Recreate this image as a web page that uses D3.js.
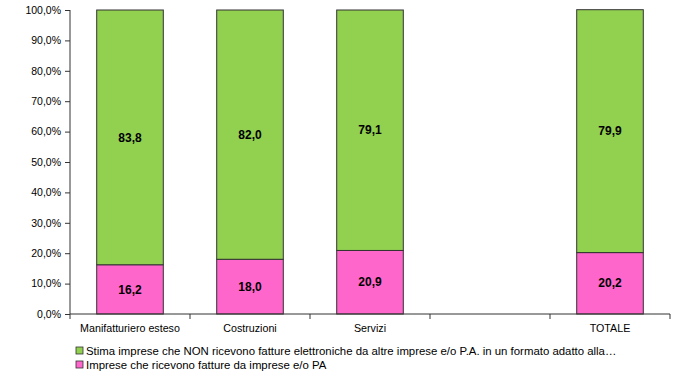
<!DOCTYPE html>
<html>
<head>
<meta charset="utf-8">
<script src="https://cdn.jsdelivr.net/npm/d3@7"></script>
<style>
  body { margin: 0; background: #fff; }
  svg text { font-family: "Liberation Sans Narrow", "Arial Narrow", "Liberation Sans", Arial, sans-serif; }
</style>
</head>
<body>
<svg id="chart" width="700" height="373"></svg>
<script>
(() => {
  const categories = ["Manifatturiero esteso", "Costruzioni", "Servizi", "", "TOTALE"];
  const pinkValues = [16.2, 18.0, 20.9, null, 20.2];
  const greenValues = [83.8, 82.0, 79.1, null, 79.9];
  const yTicks = [0, 10, 20, 30, 40, 50, 60, 70, 80, 90, 100];
  const legendLabels = [
    "Stima imprese che NON ricevono fatture elettroniche da altre imprese e/o P.A. in un formato adatto alla…",
    "Imprese che ricevono fatture da imprese e/o PA"
  ];

  const GREEN = "#92D050";
  const PINK = "#FF66CC";

  const svg = d3.select("#chart");
  const margin = { top: 10, right: 30, bottom: 59, left: 70 };
  const innerWidth = 700 - margin.left - margin.right;
  const innerHeight = 373 - margin.top - margin.bottom;

  const g = svg.append("g")
    .attr("transform", `translate(${margin.left},${margin.top})`);

  const x = d3.scaleBand()
    .domain(d3.range(categories.length))
    .range([0, innerWidth])
    .paddingInner(0)
    .paddingOuter(0);

  const y = d3.scaleLinear().domain([0, 100]).range([innerHeight, 0]);

  const fmt = d => d.toFixed(1).replace(".", ",");

  /* ---------- BARS ---------- */
  const barW = x.bandwidth() * 0.555;
  const rows = categories.map((c, i) => ({ i, pink: pinkValues[i], green: greenValues[i] }))
    .filter(d => d.pink != null);

  const bar = g.selectAll(".bar").data(rows).join("g").attr("class", "bar")
    .attr("transform", d => `translate(${x(d.i) + (x.bandwidth() - barW) / 2},0)`);

  bar.append("rect")
    .attr("y", d => y(d.pink))
    .attr("width", barW)
    .attr("height", d => y(0) - y(d.pink))
    .attr("fill", PINK)
    .attr("stroke", "#333")
    .attr("stroke-width", 1);

  bar.append("rect")
    .attr("y", d => y(d.pink + d.green))
    .attr("width", barW)
    .attr("height", d => y(d.pink) - y(d.pink + d.green))
    .attr("fill", GREEN)
    .attr("stroke", "#333")
    .attr("stroke-width", 1);

  bar.append("text")
    .attr("x", barW / 2)
    .attr("y", d => y(d.pink / 2))
    .attr("dy", "0.35em")
    .attr("text-anchor", "middle")
    .style("font-size", "12px")
    .style("font-weight", "bold")
    .text(d => fmt(d.pink));

  bar.append("text")
    .attr("x", barW / 2)
    .attr("y", d => y(d.pink + d.green / 2))
    .attr("dy", "0.35em")
    .attr("text-anchor", "middle")
    .style("font-size", "12px")
    .style("font-weight", "bold")
    .text(d => fmt(d.green));

  /* ---------- AXES ---------- */
  const yAxis = g.append("g")
    .call(d3.axisLeft(y).tickValues(yTicks).tickSize(5).tickPadding(4)
      .tickFormat(d => fmt(d) + "%"));
  yAxis.selectAll("text").style("font-size", "10.5px").attr("fill", "#000");
  yAxis.selectAll("line, path").attr("stroke", "#333");
  yAxis.select(".domain").attr("d", `M0,0V${innerHeight}`);

  const xAxis = g.append("g").attr("transform", `translate(0,${innerHeight})`);
  xAxis.append("line").attr("x1", 0).attr("x2", innerWidth).attr("stroke", "#333");
  xAxis.selectAll(".tk").data(d3.range(categories.length + 1)).join("line")
    .attr("x1", i => i * x.step()).attr("x2", i => i * x.step())
    .attr("y1", 0).attr("y2", 5).attr("stroke", "#333");
  xAxis.selectAll(".cat").data(categories).join("text")
    .attr("x", (d, i) => x(i) + x.bandwidth() / 2)
    .attr("y", 18)
    .attr("text-anchor", "middle")
    .style("font-size", "10.7px")
    .text(d => d);

  /* ---------- LEGEND ---------- */
  const legend = svg.append("g").attr("transform", "translate(76,351)");
  const lg = legend.selectAll("g").data(legendLabels).join("g")
    .attr("transform", (d, i) => `translate(0,${i * 14})`);
  lg.append("rect")
    .attr("x", 0).attr("y", -4).attr("width", 7).attr("height", 7)
    .attr("fill", (d, i) => i === 0 ? GREEN : PINK)
    .attr("stroke", "#333").attr("stroke-width", 0.8);
  lg.append("text")
    .attr("x", 10).attr("y", 0).attr("dy", "0.35em")
    .style("font-size", "11.4px")
    .text(d => d);
})();
</script>
</body>
</html>
